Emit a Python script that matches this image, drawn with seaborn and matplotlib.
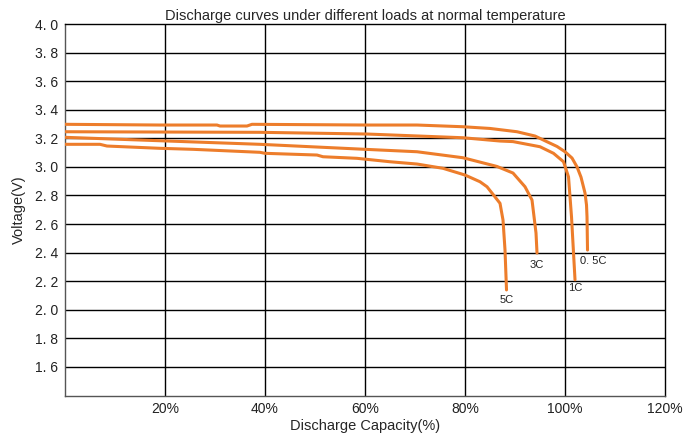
import matplotlib
matplotlib.use("Agg")
import matplotlib.pyplot as plt
import pandas as pd
import seaborn as sns

# Discharge capacity (%) and voltage (V)
cap_05c = [0, 19, 30.4, 31, 36.4, 37.4, 60.4, 70.4, 79.6, 85, 90.4, 94, 96.4,
           98.4, 100, 101.4, 102.4, 103.2, 104, 104.3, 104.4, 104.5]
volt_05c = [3.298, 3.293, 3.293, 3.286, 3.286, 3.298, 3.293, 3.293, 3.281, 3.269,
            3.246, 3.216, 3.176, 3.143, 3.106, 3.062, 3.0, 2.928, 2.817, 2.733,
            2.65, 2.418]

cap_1c = [0, 39, 60.4, 79.6, 87, 89.6, 95, 97.7, 99.7, 100.7, 101.3, 102]
volt_1c = [3.246, 3.242, 3.23, 3.204, 3.181, 3.177, 3.141, 3.095, 3.036, 2.93,
           2.65, 2.21]

cap_3c = [0, 19, 39, 60, 70.4, 79.6, 86.4, 89.6, 92, 93.4, 94.2, 94.4]
volt_3c = [3.207, 3.183, 3.158, 3.123, 3.106, 3.064, 3.003, 2.957, 2.861, 2.768,
           2.537, 2.397]

cap_5c = [0, 7, 8.4, 19, 25.6, 39, 40, 50.4, 51.6, 58.4, 65, 70.4, 75.6, 80, 83,
          84.4, 86, 87, 87.6, 88, 88.3]
volt_5c = [3.158, 3.158, 3.146, 3.13, 3.123, 3.102, 3.095, 3.083, 3.071, 3.06,
           3.036, 3.02, 2.99, 2.943, 2.896, 2.861, 2.79, 2.745, 2.628, 2.418, 2.139]

curve_names = ["0. 5C", "1C", "3C", "5C"]
label_pos = {"0. 5C": (105.6, 2.34), "1C": (102.0, 2.15),
             "3C": (94.4, 2.31), "5C": (88.4, 2.07)}

x_ticks = [20, 40, 60, 80, 100, 120]
x_tick_labels = ["20%", "40%", "60%", "80%", "100%", "120%"]
y_ticks = [1.6, 1.8, 2.0, 2.2, 2.4, 2.6, 2.8, 3.0, 3.2, 3.4, 3.6, 3.8, 4.0]

frames = []
for name, cap, volt in zip(curve_names,
                           [cap_05c, cap_1c, cap_3c, cap_5c],
                           [volt_05c, volt_1c, volt_3c, volt_5c]):
    frames.append(pd.DataFrame({"capacity": cap, "voltage": volt, "load": name}))
df = pd.concat(frames, ignore_index=True)

sns.set_style("white")
plt.rcParams["font.family"] = ["Liberation Sans", "DejaVu Sans"]

orange = "#ED7D2B"
fig = plt.figure(figsize=(6.89, 4.38), dpi=100)
ax = fig.add_axes([0.0943, 0.097, 0.8709, 0.8482])

sns.lineplot(data=df, x="capacity", y="voltage", hue="load", units="load",
             estimator=None, sort=False, palette=[orange] * 4, linewidth=2.2,
             legend=False, ax=ax, zorder=3)

for name, (lx, ly) in label_pos.items():
    ax.text(lx, ly, name, fontsize=8, color="#222222", ha="center", va="center")

ax.set_xlim(0, 120)
ax.set_ylim(1.4, 4.0)
ax.set_xticks(x_ticks)
ax.set_xticklabels(x_tick_labels)
ax.set_yticks(y_ticks)
ax.set_yticklabels([f"{v:.1f}".replace(".", ". ") for v in y_ticks])
ax.tick_params(length=0, labelsize=10, colors="#222222", pad=5)

for x in x_ticks[:-1]:
    ax.axvline(x, color="black", linewidth=1.0, zorder=1)
for y in y_ticks[:-1]:
    ax.axhline(y, color="black", linewidth=1.0, zorder=1)

for side in ["top", "right"]:
    ax.spines[side].set_color("black")
    ax.spines[side].set_linewidth(1.0)
for side in ["left", "bottom"]:
    ax.spines[side].set_color("#555555")
    ax.spines[side].set_linewidth(1.0)

ax.set_title("Discharge curves under different loads at normal temperature",
             fontsize=10.5, pad=3)
ax.set_xlabel("Discharge Capacity(%)", fontsize=10.5, labelpad=2)
ax.set_ylabel("Voltage(V)", fontsize=10.5, labelpad=6)

fig.savefig("out.png", dpi=100)
plt.close(fig)
